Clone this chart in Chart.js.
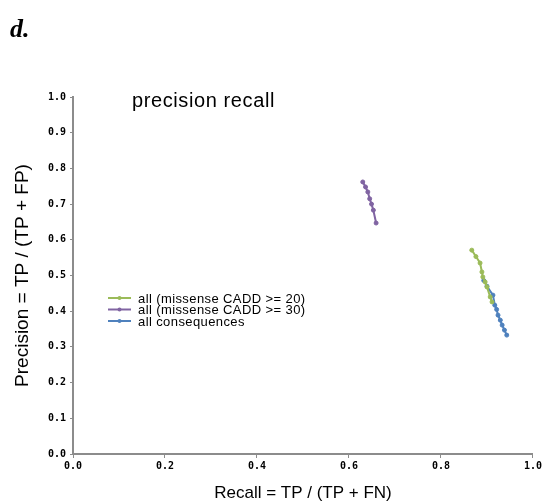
<!DOCTYPE html>
<html>
<head>
<meta charset="utf-8">
<script src="https://cdn.jsdelivr.net/npm/chart.js@4.4.1/dist/chart.umd.min.js"></script>
<style>
  html, body { margin:0; padding:0; background:#fff; }
  #wrap { width:544px; height:504px; }
</style>
</head>
<body>
<div id="wrap"><canvas id="prChart" width="544" height="504"></canvas></div>
<script>
// series names (legend order)
const seriesNames = ['all (missense CADD >= 20)', 'all (missense CADD >= 30)', 'all consequences'];
const seriesColors = ['#9BBB59', '#8064A2', '#4F81BD'];

// recall (x) / precision (y)
const recallCadd20    = [0.867, 0.876, 0.885, 0.889, 0.891, 0.896, 0.900, 0.907, 0.911];
const precisionCadd20 = [0.571, 0.553, 0.535, 0.510, 0.496, 0.482, 0.468, 0.440, 0.426];

const recallCadd30    = [0.630, 0.636, 0.641, 0.645, 0.649, 0.653, 0.659];
const precisionCadd30 = [0.762, 0.748, 0.734, 0.715, 0.700, 0.683, 0.647];

const recallAll       = [0.893, 0.900, 0.913, 0.917, 0.921, 0.924, 0.929, 0.933, 0.938, 0.943];
const precisionAll    = [0.486, 0.470, 0.445, 0.417, 0.405, 0.389, 0.375, 0.361, 0.347, 0.333];

// tick labels
const xTickLabels = ['0.0', '0.2', '0.4', '0.6', '0.8', '1.0'];
const yTickLabels = ['0.0', '0.1', '0.2', '0.3', '0.4', '0.5', '0.6', '0.7', '0.8', '0.9', '1.0'];

const toPoints = (xs, ys) => xs.map((x, i) => ({ x, y: ys[i] }));
const seriesData = [
  toPoints(recallCadd20, precisionCadd20),
  toPoints(recallCadd30, precisionCadd30),
  toPoints(recallAll, precisionAll)
];

const datasets = seriesNames.map((name, i) => ({
  label: name,
  data: seriesData[i],
  borderColor: seriesColors[i],
  backgroundColor: seriesColors[i],
  borderWidth: 2,
  pointRadius: 2,
  pointBorderWidth: 1,
  showLine: true,
  tension: 0
}));

// "d." label, inner title and in-plot legend
const decorPlugin = {
  id: 'decor',
  afterDraw(chart){
    const c = chart.ctx;
    c.save();
    c.fillStyle = '#000';
    c.textBaseline = 'alphabetic';
    c.font = 'italic bold 26px "Liberation Serif"';
    c.fillText('d.', 10, 37);

    c.font = '20px "Liberation Sans"';
    c.letterSpacing = '0.6px';
    c.fillText('precision recall', 132, 107);

    // legend
    const rowY = [298, 309.5, 321];
    c.font = '13px "Liberation Sans"';
    c.letterSpacing = '0.4px';
    c.textBaseline = 'middle';
    chart.data.datasets.forEach((ds, i) => {
      const y = rowY[i];
      c.strokeStyle = ds.borderColor;
      c.lineWidth = 2;
      c.beginPath(); c.moveTo(108, y); c.lineTo(131, y); c.stroke();
      c.fillStyle = ds.borderColor;
      c.beginPath(); c.arc(119.5, y, 2, 0, Math.PI*2); c.fill();
      c.fillStyle = '#000';
      c.fillText(ds.label, 138, y + 1);
    });
    c.restore();
  }
};

const tickFont = { family: '"DejaVu Sans Mono"', size: 10, weight: 'bold' };

const chart = new Chart(document.getElementById('prChart').getContext('2d'), {
  type: 'scatter',
  data: { datasets },
  options: {
    responsive: false,
    animation: false,
    layout: { padding: { top: 97, right: 11, left: 0, bottom: 0 } },
    plugins: { legend: { display: false }, tooltip: { enabled: false } },
    scales: {
      x: {
        type: 'linear', min: 0, max: 1,
        afterFit(scale){ scale.height = 50; },
        ticks: {
          stepSize: 0.2, color: '#000', font: tickFont, padding: 2, maxRotation: 0,
          callback: (v) => xTickLabels[Math.round(v * 5)]
        },
        grid: { drawOnChartArea: false, tickLength: 4, color: '#8c8c8c', lineWidth: 1 },
        border: { color: '#8c8c8c', width: 2 },
        title: { display: true, text: 'Recall = TP / (TP + FN)', color: '#000',
                 font: { family: '"Liberation Sans"', size: 17 }, padding: { top: 6, bottom: 0 } }
      },
      y: {
        type: 'linear', min: 0, max: 1,
        afterFit(scale){ scale.width = 73; },
        ticks: {
          stepSize: 0.1, color: '#000', font: tickFont, padding: 4,
          callback: (v) => yTickLabels[Math.round(v * 10)]
        },
        grid: { drawOnChartArea: false, tickLength: 3, color: '#8c8c8c', lineWidth: 1 },
        border: { color: '#8c8c8c', width: 2 },
        title: { display: true, text: 'Precision = TP / (TP + FP)', color: '#000',
                 font: { family: '"Liberation Sans"', size: 19 }, padding: { top: 11, bottom: 4 } }
      }
    }
  },
  plugins: [decorPlugin]
});
</script>
</body>
</html>
